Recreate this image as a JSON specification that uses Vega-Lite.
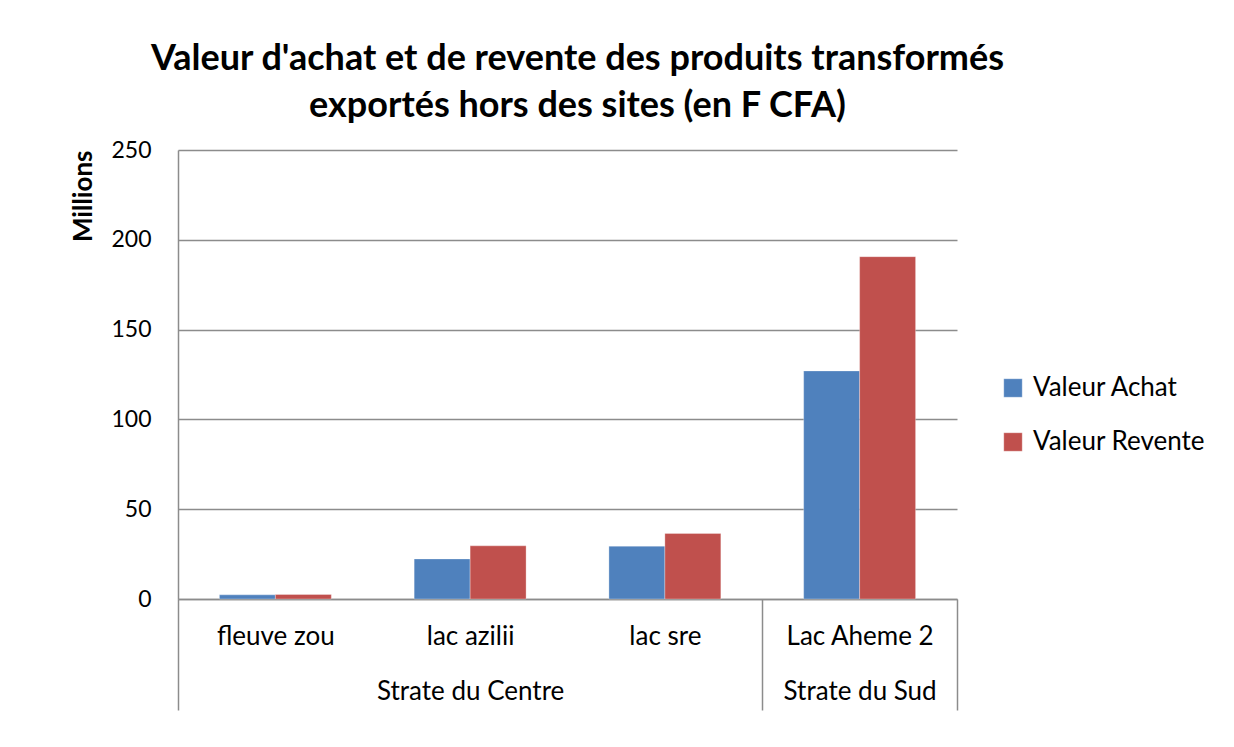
{
  "$schema": "https://vega.github.io/schema/vega-lite/v6.json",
  "autosize": "none",
  "width": 779,
  "height": 449,
  "padding": {"left": 178, "top": 150, "right": 277, "bottom": 148},
  "background": "white",
  "title": {
    "text": ["Valeur d'achat et de revente des produits transformés", "exportés hors des sites (en F CFA)"],
    "font": "Lato",
    "fontSize": 36,
    "fontWeight": "bold",
    "color": "black",
    "lineHeight": 47,
    "anchor": "middle",
    "dx": 10,
    "offset": 14
  },
  "data": {
    "values": [
      {"site": "fleuve zou", "strate": "Strate du Centre", "serie": "Valeur Achat", "valeur": 2.3},
      {"site": "fleuve zou", "strate": "Strate du Centre", "serie": "Valeur Revente", "valeur": 2.5},
      {"site": "lac azilii", "strate": "Strate du Centre", "serie": "Valeur Achat", "valeur": 22.3},
      {"site": "lac azilii", "strate": "Strate du Centre", "serie": "Valeur Revente", "valeur": 29.6},
      {"site": "lac sre", "strate": "Strate du Centre", "serie": "Valeur Achat", "valeur": 29.4},
      {"site": "lac sre", "strate": "Strate du Centre", "serie": "Valeur Revente", "valeur": 36.5},
      {"site": "Lac Aheme 2", "strate": "Strate du Sud", "serie": "Valeur Achat", "valeur": 127},
      {"site": "Lac Aheme 2", "strate": "Strate du Sud", "serie": "Valeur Revente", "valeur": 190.6}
    ]
  },
  "mark": {"type": "bar"},
  "encoding": {
    "x": {
      "field": "site",
      "type": "nominal",
      "sort": ["fleuve zou", "lac azilii", "lac sre", "Lac Aheme 2"],
      "scale": {"paddingInner": 0, "paddingOuter": 0},
      "axis": {
        "title": null,
        "labelAngle": 0,
        "tickBand": "extent",
        "tickSize": 111,
        "tickWidth": 1.5,
        "tickColor": {"condition": {"test": "!datum.extra && (datum.value === 'fleuve zou' || datum.value === 'lac azilii')", "value": "rgba(0,0,0,0)"}, "value": "#8c8c8c"},
        "domainColor": "#8c8c8c",
        "domainWidth": 1.5,
        "labelFont": "Lato",
        "labelFontSize": 26,
        "labelColor": "black",
        "labelBaseline": "top",
        "labelLineHeight": 55,
        "labelPadding": -87,
        "labelLimit": 0,
        "labelOverlap": false,
        "labelExpr": "datum.value === 'lac azilii' ? ['lac azilii', 'Strate du Centre'] : datum.value === 'Lac Aheme 2' ? ['Lac Aheme 2', 'Strate du Sud'] : [datum.value, '']"
      }
    },
    "xOffset": {
      "field": "serie",
      "type": "nominal",
      "scale": {"paddingInner": 0, "paddingOuter": 0.74}
    },
    "y": {
      "field": "valeur",
      "type": "quantitative",
      "scale": {"domain": [0, 250]},
      "axis": {
        "title": "Millions",
        "titleFont": "Lato",
        "titleFontSize": 26,
        "titleFontWeight": "bold",
        "titleColor": "black",
        "titleAnchor": "end",
        "titlePadding": 14,
        "values": [0, 50, 100, 150, 200, 250],
        "ticks": false,
        "labelFont": "Lato",
        "labelFontSize": 23,
        "labelColor": "black",
        "labelPadding": 27,
        "domainColor": "#8c8c8c",
        "domainWidth": 1.5,
        "gridColor": "#8c8c8c",
        "gridWidth": 1.5
      }
    },
    "color": {
      "field": "serie",
      "type": "nominal",
      "scale": {"domain": ["Valeur Achat", "Valeur Revente"], "range": ["#4F81BD", "#C0504D"]},
      "legend": {
        "title": null,
        "orient": "none",
        "legendX": 822,
        "legendY": 225,
        "symbolType": "square",
        "symbolSize": 340,
        "symbolStrokeWidth": 0,
        "labelFont": "Lato",
        "labelFontSize": 26,
        "labelColor": "black",
        "labelOffset": 7,
        "labelLimit": 0,
        "rowPadding": 28
      }
    }
  },
  "config": {
    "view": {"stroke": null},
    "bar": {"stroke": "white", "strokeWidth": 0.5, "strokeOpacity": 0.6}
  }
}
